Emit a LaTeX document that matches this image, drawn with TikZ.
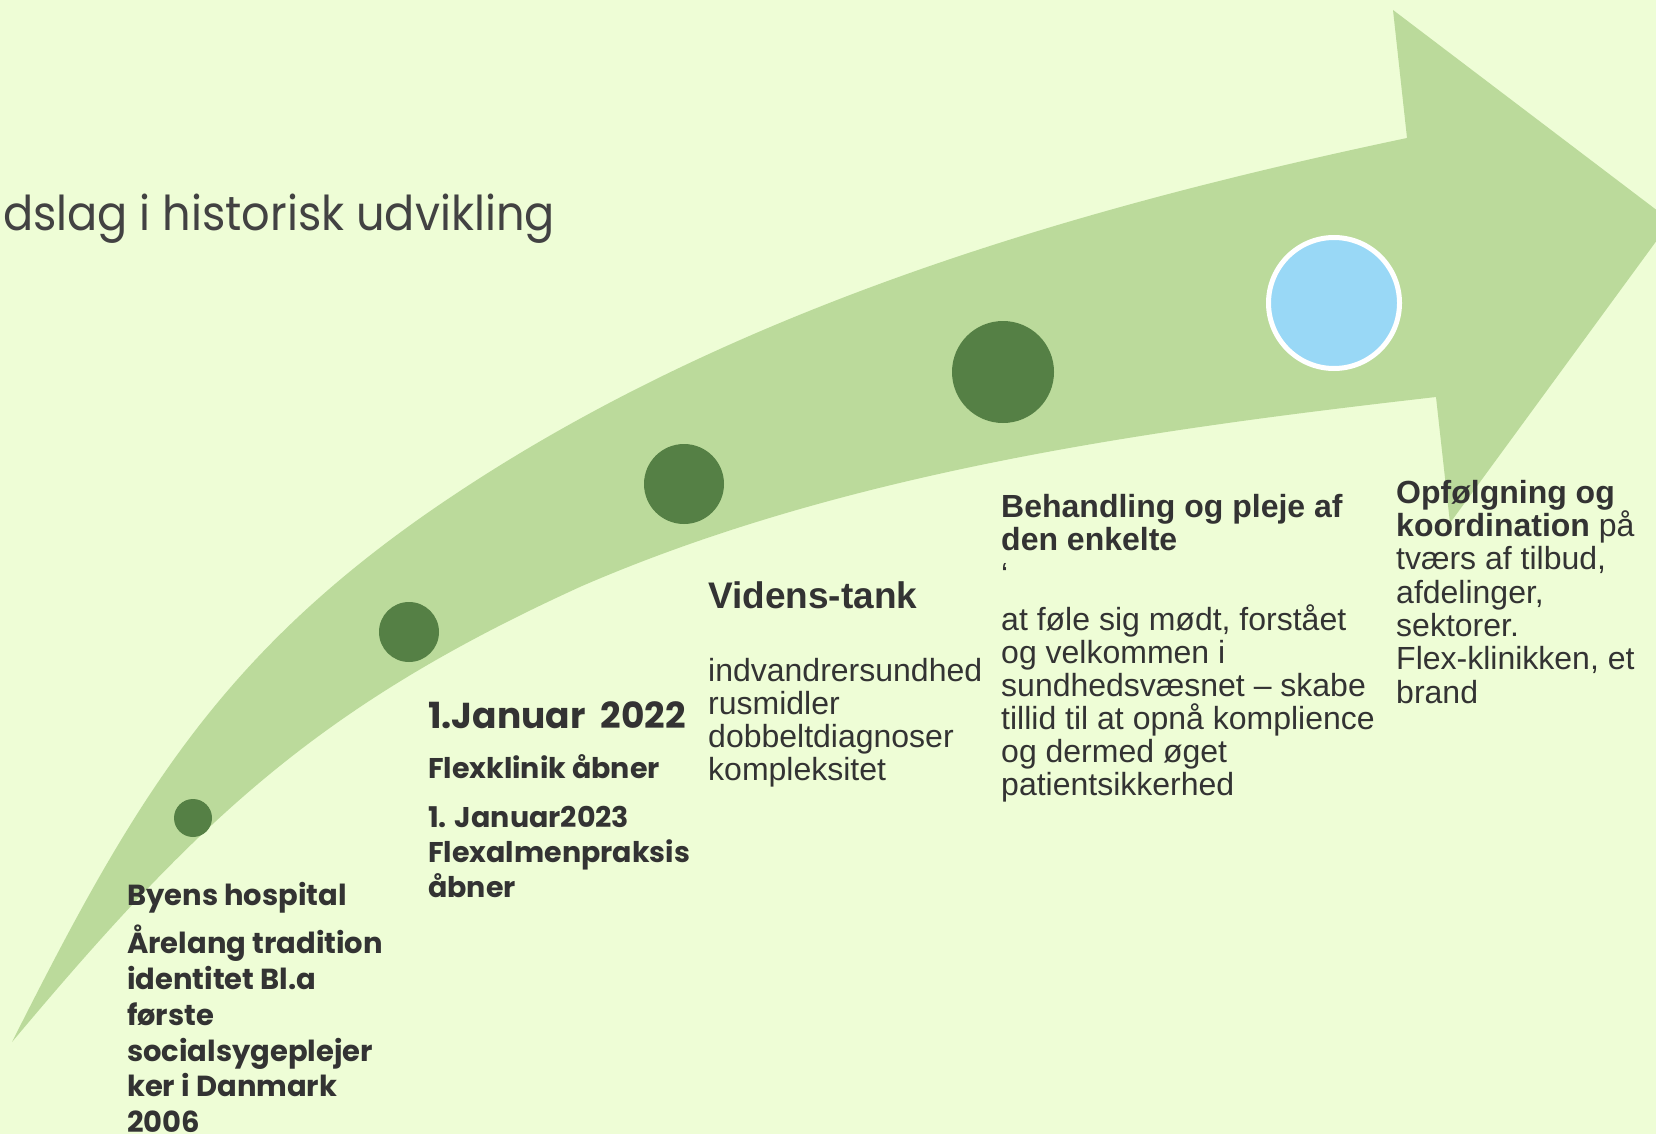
\documentclass[tikz,border=0pt]{standalone}
\usepackage{fontspec}
\setmainfont{Liberation Sans}
\newfontfamily\gothic{Poppins}
\usepackage{xcolor}
\definecolor{BG}{RGB}{238,253,214}
\definecolor{LG}{RGB}{187,218,155}
\definecolor{DG}{RGB}{85,128,69}
\definecolor{SB}{RGB}{153,216,246}
\definecolor{TX}{RGB}{51,51,51}
\definecolor{TT}{RGB}{66,66,66}

\begin{document}
\begin{tikzpicture}[x=1pt, y=-1pt,
  milestone/.style={circle, fill=DG, inner sep=0pt, minimum size=#1},
  txt/.style={anchor=north west, inner sep=0pt, align=left, text=TX,
              font=\fontsize{32}{33}\selectfont},
  gtxt/.style 2 args={anchor=north west, inner sep=0pt, align=left, text=TX,
               font=\gothic\bfseries\fontsize{#1}{#2}\selectfont}
]
% Page
\fill[BG] (0,0) rectangle (1656,1134);
\useasboundingbox (0,0) rectangle (1656,1134);
\clip (0,0) rectangle (1656,1134);

% Curved arrow
\fill[LG] (12,1042) .. controls (129,810) and (213,663) .. (426,514)
  .. controls (713,314) and (1065,210) .. (1407,138)
  -- (1393,10) -- (1671,221) -- (1450,523) -- (1436,397)
  .. controls (1147,430) and (846,472) .. (582,586)
  .. controls (318,706) and (198,820) .. (12,1042) -- cycle;

% Milestones
\node[milestone=38]  (m1) at (193,818)  {};
\node[milestone=60]  (m2) at (409,632)  {};
\node[milestone=80]  (m3) at (684,484)  {};
\node[milestone=102] (m4) at (1003,372) {};
\node[circle, fill=SB, draw=white, line width=5pt, inner sep=0pt,
      minimum size=131] (m5) at (1334,303) {};

% Title
\node[anchor=base west, inner sep=0pt, text=TT, xscale=0.93, transform shape,
      font=\gothic\fontsize{48}{55}\selectfont] (title) at (3,230)
  {dslag i historisk udvikling};

% Texts
\node[gtxt={29}{35.8}] (byens) at (127,882) {Byens hospital\\[11pt]
  Årelang tradition\\ identitet Bl.a\\ første\\ socialsygeplejer\\
  ker i Danmark\\ 2006};

\node[gtxt={28.5}{35}] (flex) at (428,701)
  {{\fontsize{36}{35}\selectfont 1.Januar\ \ 2022}\\[15pt]
  Flexklinik åbner\\[14pt]
  1. Januar2023\\ Flexalmenpraksis\\ åbner};

\node[txt] (videns) at (708,581) {{\fontsize{37}{33}\selectfont\bfseries Videns-tank}\\[40pt]
  indvandrersundhed\\ rusmidler\\ dobbeltdiagnoser\\ kompleksitet};

\node[txt] (pleje) at (1001,494) {\textbf{Behandling og pleje af}\\
  \textbf{den enkelte}\\[2pt]
  ‘\\[12pt]
  at føle sig mødt, forstået\\ og velkommen i\\ sundhedsvæsnet – skabe\\
  tillid til at opnå komplience\\ og dermed øget\\ patientsikkerhed};

\node[txt, font=\fontsize{32}{33.3}\selectfont] (opf) at (1396,480)
  {\textbf{Opfølgning og}\\ \textbf{koordination} på\\ tværs af tilbud,\\
  afdelinger,\\ sektorer.\\ Flex-klinikken, et\\ brand};
\end{tikzpicture}
\end{document}
